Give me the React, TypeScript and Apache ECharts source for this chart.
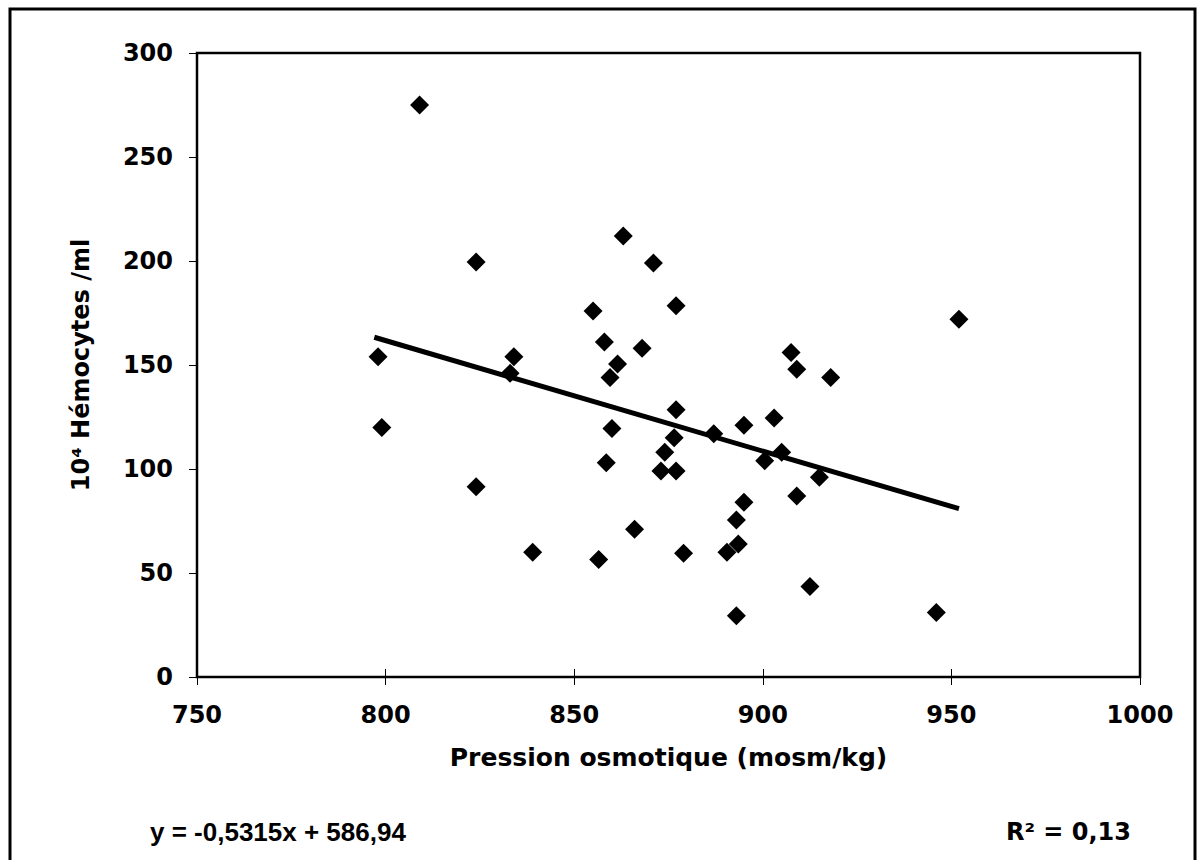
import React, { useEffect, useRef } from "react";
import * as echarts from "echarts";

const xValues = [809, 824, 798, 834, 833, 855, 799, 824, 839, 863, 871, 877, 858, 868, 861.5, 859.5, 877, 860, 876.5, 887, 874, 858.5, 873, 877, 866, 879, 856.5, 907.5, 909, 918, 903, 895, 905, 900.5, 915, 909, 895, 893, 893.5, 890.5, 912.5, 893, 946, 952];
const yValues = [275, 199.5, 154, 154, 146, 176, 120, 91.5, 60, 212, 199, 178.5, 161, 158, 150.5, 144, 128.5, 119.5, 115, 117, 108, 103, 99, 99, 71, 59.5, 56.5, 156, 148, 144, 124.5, 121, 108, 104, 96, 87, 84, 75.5, 64, 60, 43.5, 29.5, 31, 172];
const slope = -0.5315;
const intercept = 586.94;
const trendStartX = 797;
const xTitle = "Pression osmotique (mosm/kg)";
const yTitle = "10⁴ Hémocytes /ml";
const equationText = "y = -0,5315x + 586,94";
const r2Text = "R² = 0,13";

const FONT = "DejaVu Sans";

export default function App() {
  const ref = useRef<HTMLDivElement>(null);
  useEffect(() => {
    if (!ref.current) return;
    const chart = echarts.init(ref.current, null, { renderer: "svg" });
    const points = xValues.map((x, i) => [x, yValues[i]]);
    const xMin = Math.min(trendStartX, ...xValues);
    const xMax = Math.max(...xValues);
    const trend = [
      [xMin, slope * xMin + intercept],
      [xMax, slope * xMax + intercept],
    ];
    const labelStyle = { color: "#000", fontFamily: FONT, fontWeight: "bold" as const, fontSize: 24 };
    chart.setOption({
      animation: false,
      backgroundColor: "#fff",
      grid: { left: 197, top: 53, right: 62, bottom: 183, show: true, borderColor: "#000", borderWidth: 2.5, backgroundColor: "transparent" },
      xAxis: [
        {
          type: "value", min: 750, max: 1000, interval: 50,
          axisLine: { show: true, lineStyle: { color: "#000", width: 2 } },
          axisTick: { show: true, inside: false, length: 8, lineStyle: { color: "#000", width: 1 } },
          axisLabel: { ...labelStyle, margin: 26, formatter: (v: number) => String(v) },
          splitLine: { show: false },
          name: xTitle, nameLocation: "middle", nameGap: 68,
          nameTextStyle: { ...labelStyle, fontSize: 25 },
        },
        {
          type: "value", min: 750, max: 1000, interval: 50, position: "bottom",
          axisLine: { show: false },
          axisTick: { show: true, inside: true, length: 8, lineStyle: { color: "#000", width: 1 } },
          axisLabel: { show: false },
          splitLine: { show: false },
        },
      ],
      yAxis: {
        type: "value", min: 0, max: 300, interval: 50,
        axisLine: { show: true, lineStyle: { color: "#000", width: 2 } },
        axisTick: { show: true, inside: false, length: 8, lineStyle: { color: "#000", width: 1 } },
        axisLabel: { ...labelStyle, margin: 24 },
        splitLine: { show: false },
        name: yTitle, nameLocation: "middle", nameGap: 104, nameRotate: 90,
        nameTextStyle: { ...labelStyle, fontSize: 24 },
      },
      series: [
        {
          type: "line", data: trend, showSymbol: false, symbol: "none",
          lineStyle: { color: "#000", width: 5 }, z: 2,
        },
        {
          type: "scatter", data: points, symbol: "diamond", symbolSize: 19,
          itemStyle: { color: "#000", opacity: 1 }, z: 3,
        },
      ],
      graphic: [
        { type: "rect", shape: { x: 10, y: 9, width: 1185, height: 900 }, style: { fill: "none", stroke: "#000", lineWidth: 3 }, silent: true },
        { type: "text", left: 150, top: 819, style: { text: equationText, fill: "#000", font: `bold 26px "Liberation Sans"` } },
        { type: "text", right: 71, top: 820, style: { text: r2Text, fill: "#000", font: `bold 24px "${FONT}"` } },
      ],
    });
    return () => chart.dispose();
  }, []);
  return <div ref={ref} style={{ position: "fixed", left: 0, top: 0, width: 1202, height: 860 }} />;
}
